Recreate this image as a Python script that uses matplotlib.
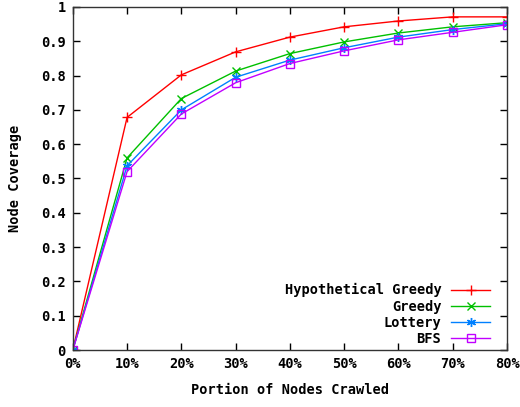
import numpy as np
import matplotlib
matplotlib.use("Agg")
import matplotlib.pyplot as plt

# --- data ---
portion = [0, 10, 20, 30, 40, 50, 60, 70, 80]
x_labels = ["0%", "10%", "20%", "30%", "40%", "50%", "60%", "70%", "80%"]
hyp_greedy = [0.0, 0.678, 0.802, 0.869, 0.912, 0.942, 0.959, 0.971, 0.971]
greedy     = [0.0, 0.560, 0.733, 0.813, 0.864, 0.898, 0.924, 0.942, 0.954]
lottery    = [0.0, 0.537, 0.700, 0.795, 0.845, 0.881, 0.912, 0.934, 0.951]
bfs        = [0.0, 0.520, 0.688, 0.779, 0.835, 0.872, 0.904, 0.926, 0.948]

plt.rcParams["font.family"] = "DejaVu Sans Mono"
plt.rcParams["font.weight"] = "bold"
plt.rcParams["font.size"] = 9.8

fig = plt.figure(figsize=(5.2, 4.07), dpi=100)
ax = fig.add_axes([0.140, 0.140, 0.835, 0.843])

series = [
    ("Hypothetical Greedy", hyp_greedy, "#ff0000", "+", 7),
    ("Greedy", greedy, "#00c000", "x", 6),
    ("Lottery", lottery, "#0080ff", (6, 2, 0), 6.5),
    ("BFS", bfs, "#c000ff", "s", 5.5),
]
for name, ys, col, mk, ms in series:
    kw = dict(markerfacecolor="none") if mk == "s" else {}
    ax.plot(portion, ys, color=col, lw=1, marker=mk, ms=ms, mew=1,
            label=name, **kw)

ax.set_xlim(0, 80)
ax.set_ylim(0, 1)
ax.set_xticks(portion)
ax.set_xticklabels(x_labels)
ax.set_yticks(np.arange(0, 1.01, 0.1))
ax.set_yticklabels(["0", "0.1", "0.2", "0.3", "0.4", "0.5", "0.6", "0.7", "0.8", "0.9", "1"])
ax.tick_params(direction="in", top=True, right=True, length=5, width=1, pad=5)
for s in ax.spines.values():
    s.set_linewidth(1)
    s.set_color("#333333")

ax.set_xlabel("Portion of Nodes Crawled", labelpad=9, fontweight="bold")
ax.set_ylabel("Node Coverage", labelpad=14, fontweight="bold")

leg = ax.legend(loc="lower right", bbox_to_anchor=(0.974, -0.003),
                borderaxespad=0, frameon=False, markerfirst=False,
                handlelength=2.9, handletextpad=0.7, labelspacing=0.15)
for t in leg.get_texts():
    t.set_ha("right")
    t.set_fontweight("bold")
leg._legend_box.align = "right"

fig.savefig("out.png", dpi=100)
